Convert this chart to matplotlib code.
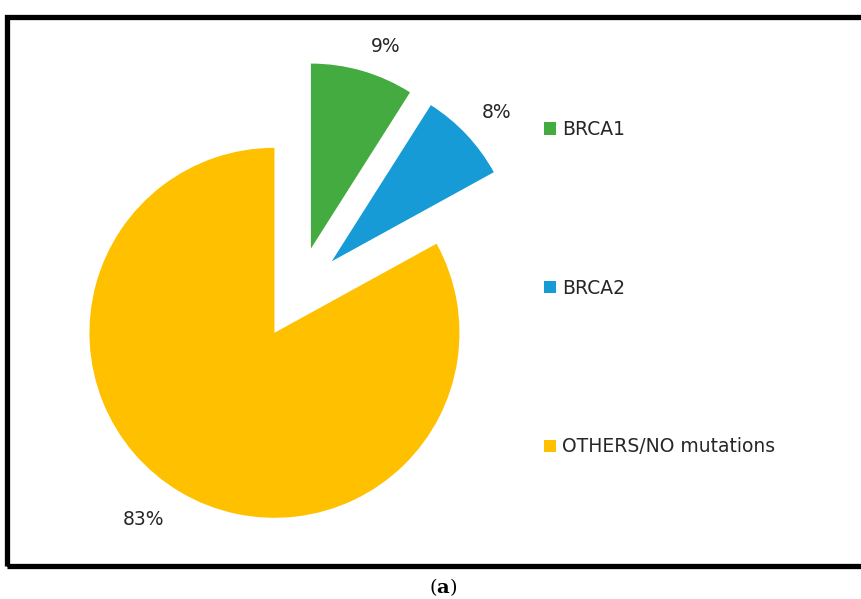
import numpy as np
import matplotlib
matplotlib.use("Agg")
import matplotlib.pyplot as plt
from matplotlib.patches import Rectangle

# Dados
labels = ["BRCA1", "BRCA2", "OTHERS/NO mutations"]
values = [9, 8, 83]
colors = ["#43AB3F", "#179BD6", "#FFC000"]

# posicao dos rotulos (distancia relativa ao raio, desvio angular em graus)
pct_dist = [1.165, 1.20, 1.233]
pct_ang = [-4.0, -1.0, -4.3]

W, H = 861, 599
fig = plt.figure(figsize=(W / 100, H / 100), dpi=100)
ax = fig.add_axes([0, 0, 1, 1])

center = (298, H - 293)
radius = 185
expl = 0.25 * radius  # explode do pie() esta em unidades de dados

wedges, _ = ax.pie(values, colors=colors, startangle=90, counterclock=False,
                   explode=[expl] * 3, center=center, radius=radius,
                   wedgeprops=dict(linewidth=0))

# pie() mexe nos limites, entao define depois
ax.set_xlim(0, W)
ax.set_ylim(0, H)
ax.set_aspect("equal")
ax.axis("off")

fonte = "DejaVu Sans"
tam = 13.5

# rotulos de porcentagem
for w, v, d, da in zip(wedges, values, pct_dist, pct_ang):
    ang = np.deg2rad((w.theta1 + w.theta2) / 2 + da)
    x = w.center[0] + radius * d * np.cos(ang)
    y = w.center[1] + radius * d * np.sin(ang)
    ax.text(x, y, f"{v}%", ha="center", va="center", fontsize=tam,
            family=fonte, color="#262626")

leg = ax.legend(wedges, labels, loc="upper left", bbox_to_anchor=(544 / W, 1 - 120 / H),
                frameon=False, prop=dict(family=fonte, size=tam),
                handlelength=0.65, handleheight=0.65, handletextpad=0.3,
                labelspacing=7.45, borderpad=0, borderaxespad=0)
for t in leg.get_texts():
    t.set_color("#262626")

# moldura
fig.patches.append(Rectangle((7 / W, 1 - 565.5 / H), 2.0, (565.5 - 16.5) / H,
                             transform=fig.transFigure, fill=False,
                             edgecolor="black", linewidth=3.8))

plt.rcParams["mathtext.fontset"] = "dejavuserif"
fig.text(443 / W, 1 - 587 / H, r"($\mathbf{a}$)", ha="center", va="center",
         fontsize=14, family="DejaVu Serif")

fig.savefig("out.png", dpi=100)
